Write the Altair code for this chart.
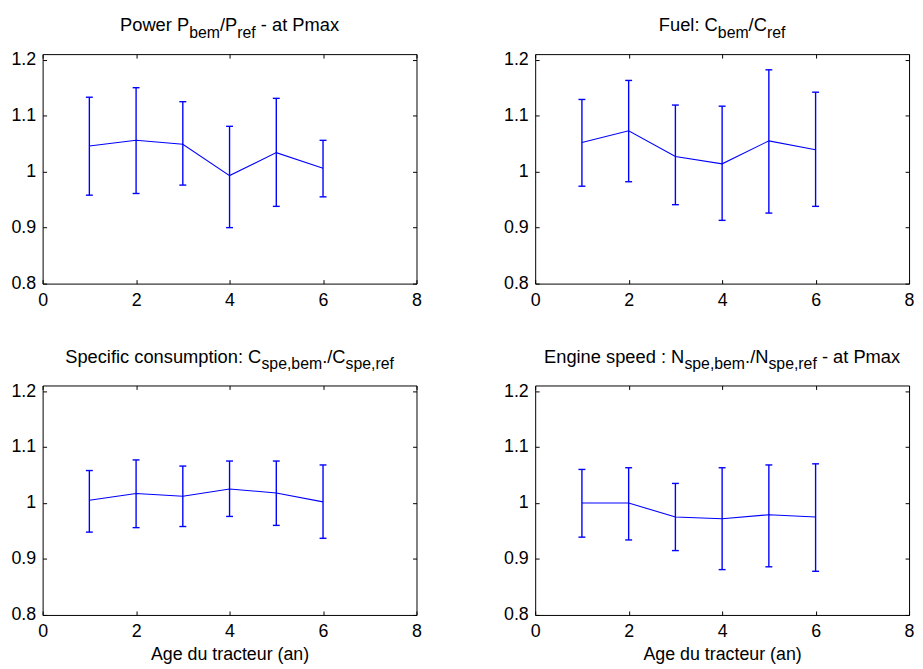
import altair as alt
import pandas as pd

# ---------------- data ----------------
ages = [1, 2, 3, 4, 5, 6]

power_mean = [1.046, 1.056, 1.049, 0.993, 1.034, 1.006]
power_high = [1.133, 1.150, 1.125, 1.081, 1.131, 1.056]
power_low = [0.958, 0.961, 0.976, 0.900, 0.938, 0.955]

fuel_mean = [1.052, 1.073, 1.027, 1.014, 1.055, 1.039]
fuel_high = [1.129, 1.163, 1.119, 1.117, 1.182, 1.142]
fuel_low = [0.974, 0.982, 0.941, 0.913, 0.926, 0.938]

spec_mean = [1.005, 1.017, 1.012, 1.025, 1.018, 1.002]
spec_high = [1.058, 1.077, 1.066, 1.075, 1.075, 1.068]
spec_low = [0.948, 0.956, 0.958, 0.976, 0.960, 0.937]

speed_mean = [1.000, 1.000, 0.975, 0.972, 0.979, 0.975]
speed_high = [1.060, 1.063, 1.035, 1.063, 1.068, 1.070]
speed_low = [0.939, 0.934, 0.915, 0.881, 0.886, 0.878]

x_ticks = [0, 2, 4, 6, 8]
y_ticks = [0.8, 0.9, 1.0, 1.1, 1.2]
x_domain = [0, 8]
y_domain = [0.8, 1.21]

# title pieces: (text, is_subscript)
title1 = [("Power P", False), ("bem", True), ("/P", False), ("ref", True), (" - at Pmax", False)]
title2 = [("Fuel: C", False), ("bem", True), ("/C", False), ("ref", True)]
title3 = [("Specific consumption: C", False), ("spe,bem", True), ("./C", False), ("spe,ref", True)]
title4 = [("Engine speed : N", False), ("spe,bem", True), ("./N", False), ("spe,ref", True), (" - at Pmax", False)]
x_title = "Age du tracteur (an)"

# ---------------- styling ----------------
W, H = 378, 232
FONT = "Liberation Sans"
AX_FS = 18
MAIN_FS, SUB_FS = 18.5, 16
BLUE = "#0000ff"

# Helvetica / Arial advance widths (per 1000 em)
ARIAL = {
    " ": 278, ".": 278, ",": 278, ":": 278, "/": 278, "-": 333, "(": 333, ")": 333,
    "A": 667, "C": 722, "E": 667, "F": 611, "N": 722, "P": 667, "S": 667,
    "a": 556, "b": 556, "c": 500, "d": 556, "e": 556, "f": 278, "g": 556, "h": 556,
    "i": 222, "l": 222, "m": 833, "n": 556, "o": 556, "p": 556, "r": 333, "s": 500,
    "t": 278, "u": 556, "w": 722, "x": 500, "y": 500,
}


def text_width(s, size):
    return sum(ARIAL.get(c, 556) for c in s) * size / 1000.0


def title_layers(pieces):
    total = sum(text_width(t, SUB_FS if sub else MAIN_FS) for t, sub in pieces)
    x = W / 2 - total / 2
    layers = []
    for t, sub in pieces:
        fs = SUB_FS if sub else MAIN_FS
        y = -16.5 if sub else -23
        lead = len(t) - len(t.lstrip(" "))
        x += text_width(" " * lead, fs)
        core = t.lstrip(" ")
        layers.append(
            alt.Chart(alt.Data(values=[{"k": 0}]))
            .mark_text(text=core, align="left", baseline="alphabetic", font=FONT,
                       fontSize=fs, color="black")
            .encode(x=alt.value(x), y=alt.value(y))
        )
        x += text_width(core, fs)
    return layers


def tick_axis(orient, values):
    return alt.Axis(orient=orient, values=values, labels=False, domain=False,
                    grid=False, ticks=True, tickSize=4, offset=-4,
                    tickColor="black", tickWidth=1, title=None)


def panel(mean, low, high, pieces, xtitle):
    df = pd.DataFrame({"age": ages, "mean": mean, "low": low, "high": high})
    xs = alt.Scale(domain=x_domain, nice=False, zero=False)
    ys = alt.Scale(domain=y_domain, nice=False, zero=False)

    xlab = dict(orient="bottom", values=x_ticks, format="d", ticks=False,
                domain=False, grid=False, labelFont=FONT, labelFontSize=AX_FS,
                labelColor="black", labelPadding=8, labelFlush=False,
                labelOverlap=False)
    if xtitle:
        xlab.update(title=xtitle, titleFont=FONT, titleFontSize=AX_FS,
                    titleFontWeight="normal", titleColor="black", titlePadding=5)
    else:
        xlab.update(title=None)
    ylab = alt.Axis(orient="left", values=y_ticks, format=".1~f", ticks=False,
                    domain=False, grid=False, labelFont=FONT,
                    labelFontSize=AX_FS, labelColor="black", labelPadding=7,
                    labelOverlap=False, title=None)

    bars = alt.Chart(df).mark_rule(color=BLUE, strokeWidth=1.4).encode(
        x=alt.X("age:Q", scale=xs, axis=alt.Axis(**xlab)),
        y=alt.Y("low:Q", scale=ys, axis=ylab),
        y2="high:Q",
    )
    line = alt.Chart(df).mark_line(color=BLUE, strokeWidth=1.1).encode(
        x=alt.X("age:Q", scale=xs, axis=tick_axis("bottom", x_ticks)),
        y=alt.Y("mean:Q", scale=ys, axis=tick_axis("left", y_ticks)),
    )
    cap_lo = alt.Chart(df).mark_tick(orient="horizontal", color=BLUE, size=7,
                                     thickness=1.4, opacity=1).encode(
        x=alt.X("age:Q", scale=xs, axis=tick_axis("top", x_ticks)),
        y=alt.Y("low:Q", scale=ys, axis=tick_axis("right", y_ticks)),
    )
    cap_hi = alt.Chart(df).mark_tick(orient="horizontal", color=BLUE, size=7,
                                     thickness=1.4, opacity=1).encode(
        x=alt.X("age:Q", scale=xs, axis=None),
        y=alt.Y("high:Q", scale=ys, axis=None),
    )
    return (
        alt.layer(bars, line, cap_lo, cap_hi, *title_layers(pieces))
        .resolve_axis(x="independent", y="independent")
        .properties(width=W, height=H)
    )


p1 = panel(power_mean, power_low, power_high, title1, None)
p2 = panel(fuel_mean, fuel_low, fuel_high, title2, None)
p3 = panel(spec_mean, spec_low, spec_high, title3, x_title)
p4 = panel(speed_mean, speed_low, speed_high, title4, x_title)

chart = (
    alt.concat(p1, p2, p3, p4, columns=2, spacing={"row": 103, "column": 120},
               bounds="flush")
    .properties(padding={"left": 2, "top": 4, "right": 0, "bottom": 0},
                background="white")
    .configure_view(stroke="black", strokeWidth=1)
)

chart.save("out.html", embed_options={"renderer": "svg", "actions": False})
